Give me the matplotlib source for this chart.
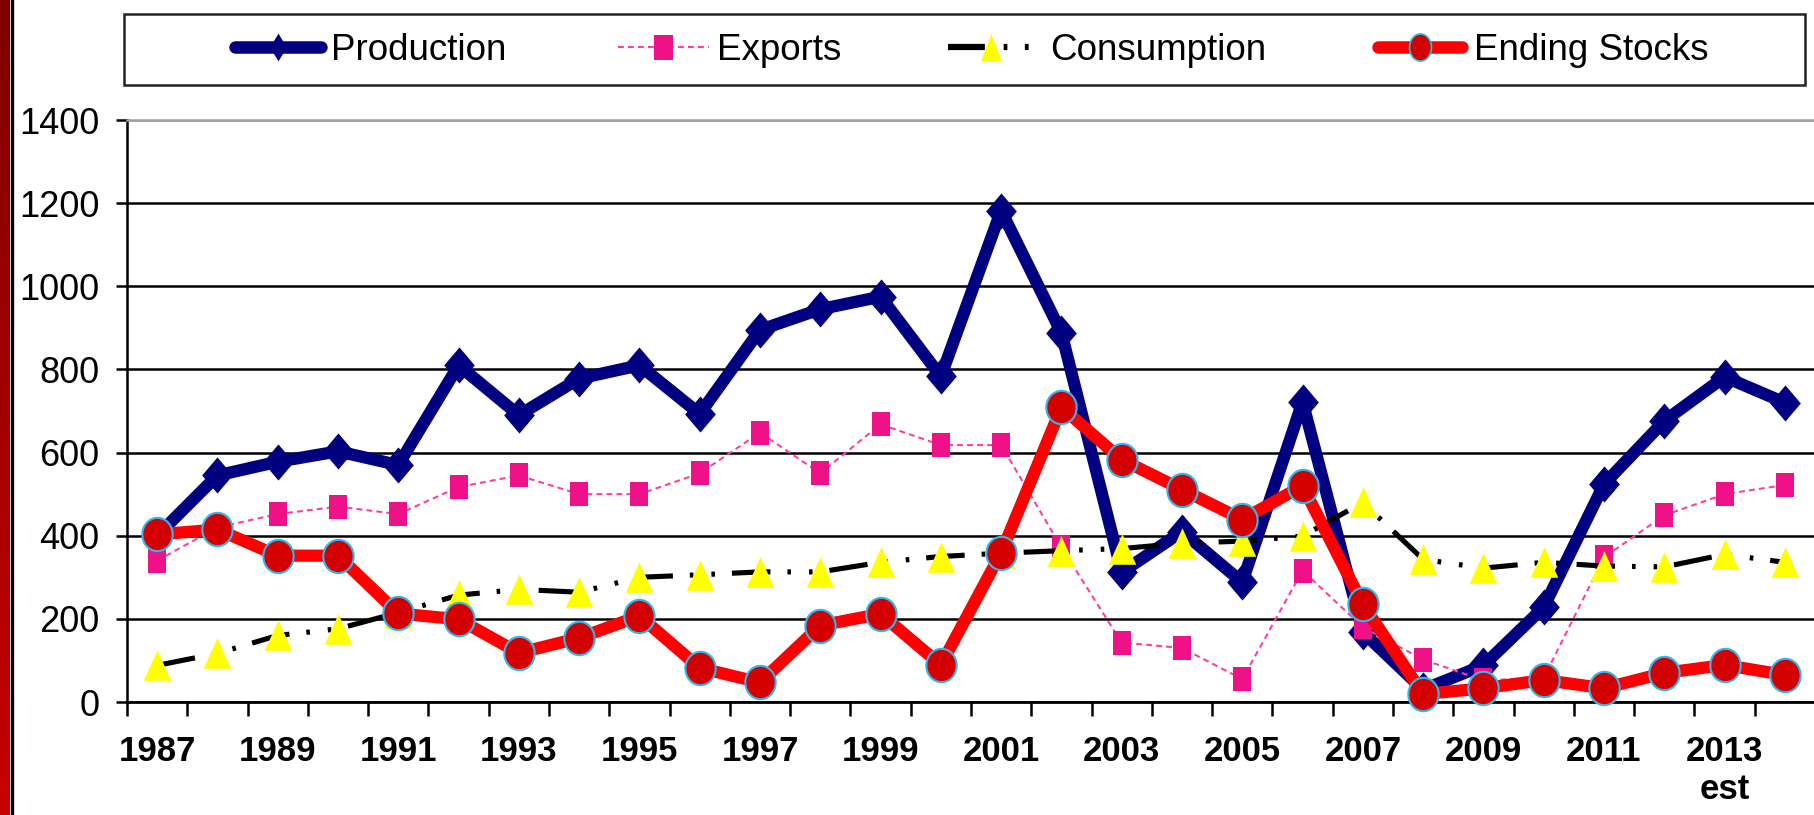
import numpy as np
import matplotlib
matplotlib.use("Agg")
import matplotlib.pyplot as plt
from matplotlib.lines import Line2D
from matplotlib.patches import Rectangle
from matplotlib.font_manager import FontProperties

# ---------------------------------------------------------------- data
years = list(range(1987, 2015))
production = [400, 545, 578, 603, 570, 810, 690, 778, 810, 693, 895, 945, 975, 783,
              1182, 888, 312, 410, 288, 722, 168, 30, 88, 228, 524, 676, 782, 720]
exports = [340, 420, 452, 470, 452, 517, 545, 500, 500, 550, 648, 550, 668, 618,
           618, 372, 143, 130, 55, 316, 180, 102, 52, 58, 348, 449, 500, 522]
consumption = [88, 117, 160, 176, 215, 257, 271, 264, 300, 306, 313, 313, 336, 350,
               358, 364, 369, 382, 387, 399, 480, 343, 322, 336, 327, 325, 355, 336]
ending_stocks = [403, 415, 352, 352, 213, 199, 118, 154, 207, 82, 47, 184, 212, 89,
                 359, 709, 583, 511, 439, 520, 235, 19, 33, 53, 33, 70, 89, 65]
series_names = ["Production", "Exports", "Consumption", "Ending Stocks"]
labeled_years = years[:-1:2]                      # 1987, 1989, ... 2013
year_labels = [str(y) for y in labeled_years]
year_labels[-1] = year_labels[-1] + "\nest"
y_ticks = [0, 200, 400, 600, 800, 1000, 1200, 1400]

# ---------------------------------------------------------------- fonts
FONT = ["Liberation Sans", "DejaVu Sans"]
plt.rcParams["font.family"] = FONT

W, H = 1815, 815
fig = plt.figure(figsize=(W / 100, H / 100), dpi=100)
fig.patch.set_facecolor("white")


def fx(px):
    return px / W


def fy(py):
    return 1 - py / H


# ---------------------------------------------------------------- marker shapes
def diamond(a):
    return [(0, 1), (a, 0), (0, -1), (-a, 0), (0, 1)]


def rect(a):
    return [(-a, -1), (a, -1), (a, 1), (-a, 1), (-a, -1)]


def ellipse(a):
    t = np.linspace(0, 2 * np.pi, 73)
    return list(zip(a * np.cos(t), np.sin(t)))


def tri(a):
    return [(0, 1), (-a, -1), (a, -1), (0, 1)]


NAVY = "#000080"
PINK_LINE = "#FF3FA0"
PINK = "#EE1188"
YELLOW = "#FFFF00"
RED = "#FF0000"
DARK_RED = "#D40000"
SKY = "#2EB8F0"

CONS_DASH = (0, (7.5, 3.3, 0.7, 3.5, 0.7, 3.3))

# ---------------------------------------------------------------- main axes
ax = fig.add_axes([fx(127), fy(702), 1 - fx(127), (702 - 120) / H])
x = np.arange(len(years))

ax.plot(x, production, color=NAVY, lw=8.8, solid_joinstyle="round",
        marker=diamond(0.85), ms=26, mfc=NAVY, mec=NAVY, mew=0,
        zorder=3, clip_on=False)
ax.plot(x, exports, color=PINK_LINE, lw=1.5, ls=(0, (2.8, 2.0)),
        marker=rect(0.76), ms=17.6, mfc=PINK, mec=PINK, mew=0,
        zorder=4, clip_on=False)
ax.plot(x, consumption, color="black", lw=3.7, ls=CONS_DASH,
        marker=tri(0.9), ms=22, mfc=YELLOW, mec=YELLOW, mew=0,
        zorder=5, clip_on=False)
ax.plot(x, ending_stocks, color=RED, lw=8.8, solid_joinstyle="round",
        marker=ellipse(0.91), ms=24, mfc=DARK_RED, mec=SKY, mew=1.5,
        zorder=6, clip_on=False)

ax.set_ylim(0, 1400)
ax.set_xlim(-0.5, 27.42)

# y axis
ax.set_yticks(y_ticks)
ax.set_yticklabels([str(v) for v in y_ticks])
ax.tick_params(axis="y", direction="out", length=8, width=1.8, pad=12,
               labelsize=26, colors="black")
ax.yaxis.grid(True, color="black", lw=1.8)
ax.get_ygridlines()[-1].set_color("#A0A0A0")
ax.set_axisbelow(True)

# x axis: tick marks between categories, labels on every other year
ax.set_xticks(np.arange(-0.5, len(years) + 0.5, 1.0))
ax.set_xticklabels([])
ax.tick_params(axis="x", which="major", direction="out", length=10, width=1.8)
ax.set_xticks([years.index(y) for y in labeled_years], minor=True)
ax.set_xticklabels(year_labels, minor=True, fontweight="bold")
ax.tick_params(axis="x", which="minor", length=0, pad=23.5, labelsize=25)

ax.spines["right"].set_visible(False)
ax.spines["top"].set_color("#A0A0A0")
ax.spines["top"].set_linewidth(1.8)
ax.spines["left"].set_linewidth(1.8)
ax.spines["bottom"].set_linewidth(2.0)

# ---------------------------------------------------------------- left border strip
strip = fig.add_axes([0, 0, fx(10), 1])
grad = np.linspace(0, 1, 256).reshape(-1, 1)
top_c = np.array([0x7E, 0x00, 0x00]) / 255
bot_c = np.array([0xC8, 0x00, 0x00]) / 255
img = top_c[None, None, :] * (1 - grad[:, :, None]) + bot_c[None, None, :] * grad[:, :, None]
strip.imshow(img, aspect="auto", extent=(0, 1, 0, 1), origin="upper")
strip.set_axis_off()
fig.add_artist(Line2D([fx(11.7), fx(11.7)], [0, 1], transform=fig.transFigure,
                      color="black", lw=2.4))

# ---------------------------------------------------------------- legend
fig.add_artist(Rectangle((fx(124), fy(85)), fx(1805) - fx(124), (85 - 14) / H,
                         transform=fig.transFigure, facecolor="white",
                         edgecolor="#222222", lw=1.8, zorder=1))

FS = 26.5
FS_PX = FS * 100 / 72
leg_prop = FontProperties(family=FONT, size=FS)
handles = [
    Line2D([], [], color=NAVY, lw=9, solid_capstyle="round",
           marker=diamond(0.6), ms=20, mfc=NAVY, mec=NAVY, mew=0),
    Line2D([], [], color=PINK_LINE, lw=1.5, ls=(0, (2.8, 2.0)),
           marker=rect(0.76), ms=18, mfc=PINK, mec=PINK, mew=0),
    Line2D([], [], color="black", lw=4.5, ls=(0, (5.9, 3.0, 0.6, 2.8, 0.6, 2.8)),
           marker=tri(0.78), ms=19.5, mfc=YELLOW, mec=YELLOW, mew=0),
    Line2D([], [], color=RED, lw=9, solid_capstyle="round",
           marker=ellipse(0.81), ms=19.5, mfc=DARK_RED, mec=SKY, mew=1.2),
]
# (handle start px, handle length px, gap to text px)
slots = [(235, 86, 10), (618, 91, 8), (948, 87, 15), (1378, 84, 12)]
yc = fy(50)
for h, name, (x0, hl, gap) in zip(handles, series_names, slots):
    lg = fig.legend([h], [name], loc="center left",
                    bbox_to_anchor=(fx(x0), yc), bbox_transform=fig.transFigure,
                    frameon=False, borderpad=0, borderaxespad=0,
                    handlelength=hl / FS_PX, handletextpad=gap / FS_PX,
                    numpoints=1, prop=leg_prop)
    lg.set_zorder(3)

fig.savefig("out.png", dpi=100, facecolor="white")
